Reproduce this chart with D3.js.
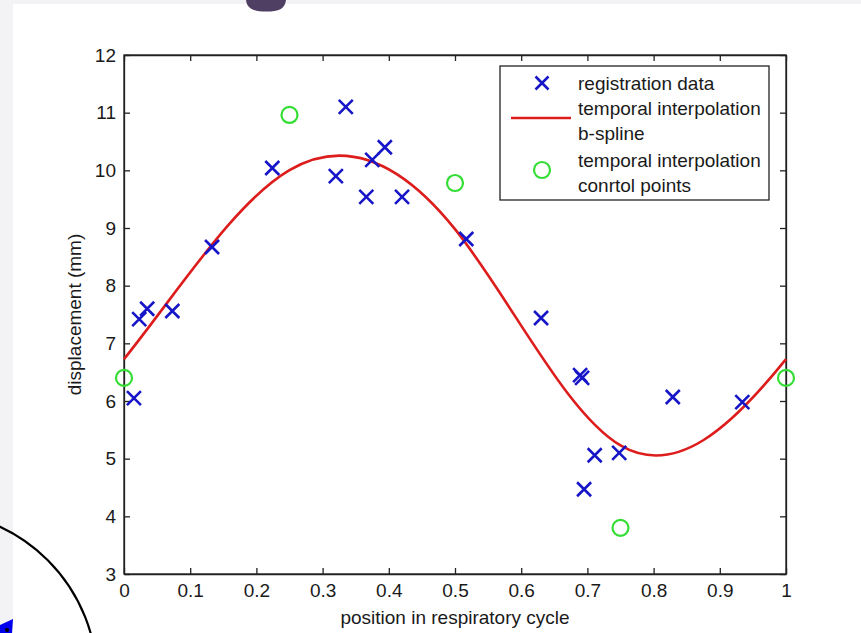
<!DOCTYPE html>
<html>
<head>
<meta charset="utf-8">
<script src="https://cdn.jsdelivr.net/npm/d3@7"></script>
<style>
  body { margin: 0; background: #f3f2f5; }
  svg { display: block; }
  text { font-family: "Liberation Sans", Arial, sans-serif; fill: #1a1a1a; }
</style>
</head>
<body>
<svg id="chart" width="861" height="633"></svg>
<script>
// registration data (blue crosses)
const regX = [0.015, 0.023, 0.035, 0.073, 0.133, 0.224, 0.320, 0.335, 0.366, 0.375, 0.394, 0.420,
              0.517, 0.630, 0.689, 0.692, 0.695, 0.711, 0.748, 0.829, 0.934];
const regY = [6.05, 7.42, 7.60, 7.56, 8.67, 10.04, 9.90, 11.10, 9.54, 10.18, 10.40, 9.54,
              8.81, 7.44, 6.45, 6.40, 4.47, 5.06, 5.10, 6.07, 5.98];

// control points of the temporal interpolation (green circles)
const ctrlX = [0, 0.25, 0.5, 0.75, 1];
const ctrlY = [6.40, 10.96, 9.78, 3.80, 6.40];

// periodic b-spline control polygon (cycle wraps around at 0 / 1)
const splineX = [-0.25, 0, 0.25, 0.5, 0.75, 1, 1.25];
const splineY = [3.80, 6.40, 10.96, 9.78, 3.80, 6.40, 10.96];

const xTicks = [0, 0.1, 0.2, 0.3, 0.4, 0.5, 0.6, 0.7, 0.8, 0.9, 1];
const yTicks = [3, 4, 5, 6, 7, 8, 9, 10, 11, 12];

const legendLabels = [["registration data"], ["temporal interpolation", "b-spline"], ["temporal interpolation", "conrtol points"]];

const svg = d3.select("#chart");

// page decorations around the figure
svg.append("rect").attr("x", 13).attr("y", 4).attr("width", 848).attr("height", 629).attr("fill", "#ffffff");
svg.append("path")
    .attr("d", "M246,0 C247,9 254,11.5 266,11.5 C279,11.5 285,9 286,0 Z")
    .attr("fill", "#4f3f62");
svg.append("circle").attr("cx", -71).attr("cy", 679).attr("r", 168)
    .attr("fill", "none").attr("stroke", "#000").attr("stroke-width", 2.2);
svg.append("path").attr("d", "M0,625 L13,619 L12,633 L0,633 Z").attr("fill", "#0000ee");
svg.append("circle").attr("cx", 7).attr("cy", 630).attr("r", 2).attr("fill", "#000");

const plotL = 124, plotR = 786, plotT = 55, plotB = 574;

const x = d3.scaleLinear().domain([0, 1]).range([plotL, plotR]);
const y = d3.scaleLinear().domain([3, 12]).range([plotB, plotT]);

const g = svg.append("g");

// axes with inward ticks on all sides
const tickLen = 6;
g.append("g").attr("transform", `translate(0,${plotB})`)
    .call(d3.axisBottom(x).tickValues(xTicks).tickSizeInner(-tickLen).tickSizeOuter(0).tickPadding(10)
        .tickFormat(d => d === 0 || d === 1 ? d3.format("d")(d) : d3.format(".1f")(d)));
g.append("g").attr("transform", `translate(${plotL},0)`)
    .call(d3.axisLeft(y).tickValues(yTicks).tickSizeInner(-tickLen).tickSizeOuter(0).tickPadding(8));
g.append("g").attr("transform", `translate(0,${plotT})`)
    .call(d3.axisTop(x).tickValues(xTicks).tickSizeInner(-tickLen).tickSizeOuter(0).tickFormat(""));
g.append("g").attr("transform", `translate(${plotR},0)`)
    .call(d3.axisRight(y).tickValues(yTicks).tickSizeInner(-tickLen).tickSizeOuter(0).tickFormat(""));

g.selectAll(".domain").attr("stroke", "#222").attr("stroke-width", 1.3);
g.selectAll(".tick line").attr("stroke", "#222").attr("stroke-width", 1.3);
g.selectAll(".tick text").attr("font-size", 19).attr("font-family", "Liberation Sans, Arial, sans-serif").attr("fill", "#1a1a1a");
g.append("rect").attr("x", plotL).attr("y", plotT).attr("width", plotR - plotL).attr("height", plotB - plotT)
    .attr("fill", "none").attr("stroke", "#222").attr("stroke-width", 1.3);

// axis labels
svg.append("text").attr("x", (plotL + plotR) / 2).attr("y", 624).attr("text-anchor", "middle")
    .attr("font-size", 19).text("position in respiratory cycle");
svg.append("text").attr("transform", `translate(81,${(plotT + plotB) / 2}) rotate(-90)`)
    .attr("text-anchor", "middle").attr("font-size", 19).text("displacement (mm)");

// b-spline curve
const spline = d3.line().x(d => x(d[0])).y(d => y(d[1])).curve(d3.curveBasisOpen);
g.append("path").datum(splineX.map((v, i) => [v, splineY[i]]))
    .attr("d", spline).attr("fill", "none").attr("stroke", "#dd1c1c").attr("stroke-width", 2.6);

// crosses
const cross = (sel, cx, cy, s) => {
  sel.append("path")
      .attr("d", `M${cx - s},${cy - s}L${cx + s},${cy + s}M${cx - s},${cy + s}L${cx + s},${cy - s}`)
      .attr("stroke", "#1616c8").attr("stroke-width", 2.6).attr("fill", "none");
};
const crosses = g.append("g");
regX.forEach((v, i) => cross(crosses, x(v), y(regY[i]), 7));

// control points
g.append("g").selectAll("circle").data(ctrlX.map((v, i) => [v, ctrlY[i]])).join("circle")
    .attr("cx", d => x(d[0])).attr("cy", d => y(d[1])).attr("r", 8)
    .attr("fill", "none").attr("stroke", "#33dd33").attr("stroke-width", 2.2);

// legend
const lg = svg.append("g");
lg.append("rect").attr("x", 500).attr("y", 66).attr("width", 269).attr("height", 134)
    .attr("fill", "#fff").attr("stroke", "#222").attr("stroke-width", 1.3);
cross(lg, 542, 83, 6.5);
lg.append("line").attr("x1", 511).attr("x2", 571).attr("y1", 118).attr("y2", 118)
    .attr("stroke", "#dd1c1c").attr("stroke-width", 2.6);
lg.append("circle").attr("cx", 542).attr("cy", 170).attr("r", 8)
    .attr("fill", "none").attr("stroke", "#33dd33").attr("stroke-width", 2.2);
const lineYs = [[90], [115, 140], [167, 192]];
legendLabels.forEach((lines, i) => {
  lines.forEach((t, j) => {
    lg.append("text").attr("x", 578).attr("y", lineYs[i][j]).attr("font-size", 19).text(t);
  });
});
</script>
</body>
</html>
